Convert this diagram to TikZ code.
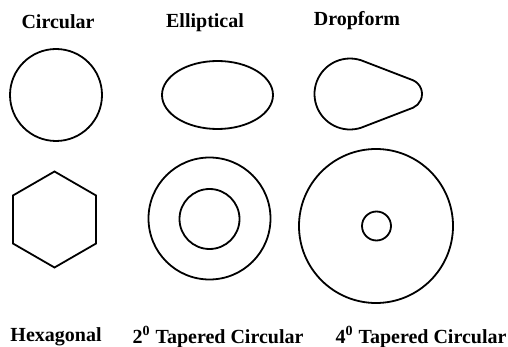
\documentclass[tikz,border=0pt]{standalone}
\usepackage{fontspec}
\setmainfont{Liberation Serif}
\usetikzlibrary{calc}
\begin{document}
\begin{tikzpicture}[x=0.5pt, y=-0.5pt, line width=0.9pt,
    shapelabel/.style={font=\fontsize{10}{12}\selectfont\bfseries}]
  \useasboundingbox (0,0) rectangle (508,347);

  % Top row: circular, elliptical, dropform
  \draw (56,95) circle[radius=46];
  \draw (217.5,95) ellipse[x radius=55.5, y radius=34];
  \coordinate (dropbig) at (350,94);
  \coordinate (dropsmall) at (407,94);
  \draw ($(dropbig)+(66:35.5)$) arc[start angle=66, end angle=294, radius=35.5]
    -- ($(dropsmall)+(-66:15)$) arc[start angle=-66, end angle=66, radius=15] -- cycle;

  % Bottom row: hexagonal, tapered circular
  \draw (54.5,219.5) +(90:48) -- +(30:48) -- +(-30:48) -- +(-90:48)
    -- +(-150:48) -- +(150:48) -- cycle;
  \draw (209.5,218.5) circle[radius=61];
  \draw (209.5,219) circle[radius=30];
  \draw (376,226) circle[radius=77];
  \draw (376.5,226) circle[radius=14.5];

  % Labels
  \node[shapelabel] (circular) at (58,22) {Circular};
  \node[shapelabel] (elliptical) at (205,23) {Elliptical};
  \node[shapelabel] (dropform) at (357,21) {Dropform};
  \node[shapelabel] (hexagonal) at (56,337) {Hexagonal};
  \node[shapelabel] (taper2) at (218,337) {2\textsuperscript{0} Tapered Circular};
  \node[shapelabel] (taper4) at (421,337) {4\textsuperscript{0} Tapered Circular};
\end{tikzpicture}
\end{document}
